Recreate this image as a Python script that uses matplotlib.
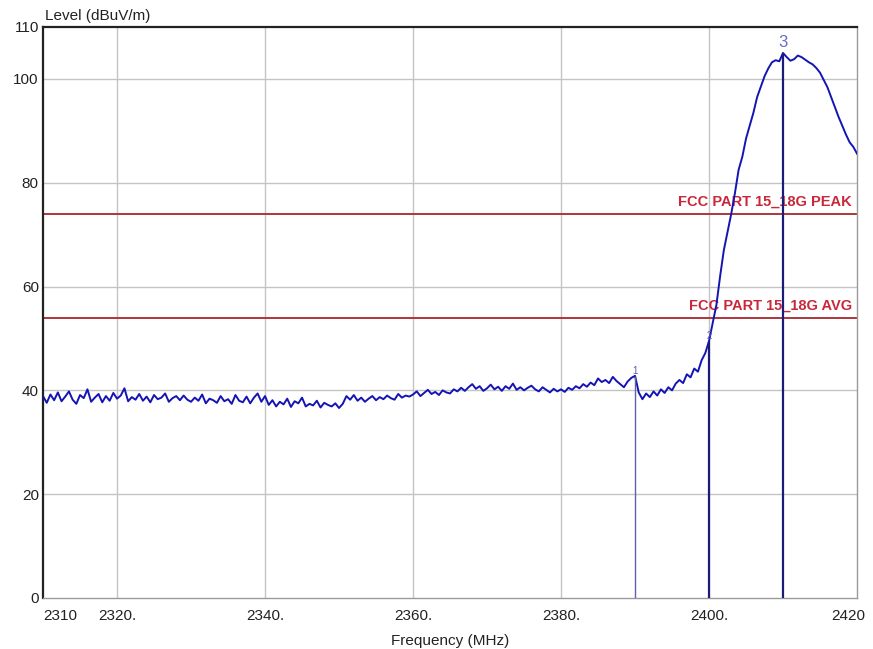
import numpy as np
import matplotlib
matplotlib.use("Agg")
import matplotlib.pyplot as plt
import matplotlib.transforms as mtransforms

plt.rcParams["font.family"] = ["Liberation Sans", "DejaVu Sans"]

# ---------------------------------------------------------------
# Data (0.5 MHz steps, 2310 - 2420 MHz)
# ---------------------------------------------------------------
freq_start = 2310.0
freq_step = 0.5

level = [
    # 2310 - 2319.5
    38.9, 37.6, 39.2, 38.1, 39.6, 37.9, 38.8, 39.8, 38.2, 37.4,
    39.1, 38.5, 40.2, 37.8, 38.6, 39.3, 37.7, 38.9, 38.0, 39.5,
    # 2320 - 2329.5
    38.4, 39.0, 40.4, 37.9, 38.7, 38.2, 39.3, 38.0, 38.8, 37.7,
    39.1, 38.3, 38.6, 39.4, 37.8, 38.5, 38.9, 38.1, 39.0, 38.2,
    # 2330 - 2339.5
    37.8, 38.6, 38.0, 39.2, 37.5, 38.4, 38.1, 37.6, 38.9, 37.9,
    38.3, 37.4, 39.1, 38.0, 37.7, 38.8, 37.5, 38.6, 39.4, 37.8,
    # 2340 - 2349.5
    38.9, 37.2, 38.1, 36.9, 37.8, 37.3, 38.4, 36.8, 37.9, 37.5,
    38.6, 36.9, 37.4, 37.1, 38.0, 36.7, 37.6, 37.2, 36.9, 37.5,
    # 2350 - 2359.5
    36.6, 37.4, 38.9, 38.2, 39.1, 38.0, 38.6, 37.8, 38.4, 38.9,
    38.1, 38.7, 38.3, 39.0, 38.5, 38.2, 39.3, 38.6, 39.0, 38.8,
    # 2360 - 2369.5
    39.2, 39.8, 38.9, 39.5, 40.1, 39.3, 39.7, 39.1, 40.0, 39.6,
    39.4, 40.2, 39.8, 40.5, 39.9, 40.6, 41.2, 40.3, 40.8, 39.9,
    # 2370 - 2379.5
    40.4, 41.1, 40.2, 40.7, 39.9, 40.8, 40.3, 41.3, 40.1, 40.6,
    40.0, 40.5, 40.9, 40.2, 39.8, 40.6, 40.1, 39.6, 40.3, 39.8,
    # 2380 - 2389.5
    40.2, 39.7, 40.5, 40.1, 40.8, 40.4, 41.2, 40.7, 41.5, 41.0,
    42.3, 41.6, 42.0, 41.4, 42.6, 41.8, 41.2, 40.6, 41.7, 42.4,
    # 2390 - 2399.5
    42.8, 39.6, 38.3, 39.4, 38.7, 39.8, 39.0, 40.2, 39.5, 40.6,
    40.0, 41.3, 42.0, 41.4, 43.1, 42.5, 44.2, 43.6, 45.8, 47.2,
    # 2400 - 2409.5
    49.5, 53.0, 56.5, 62.0, 67.0, 70.5, 74.0, 78.0, 82.5, 85.0,
    88.5, 91.0, 93.5, 96.5, 98.5, 100.5, 102.0, 103.2, 103.6, 103.4,
    # 2410 - 2420
    105.0, 104.2, 103.5, 103.8, 104.5, 104.2, 103.7, 103.2, 102.8, 102.1,
    101.2, 99.8, 98.4, 96.5, 94.6, 92.7, 91.0, 89.3, 87.8, 86.9, 85.6,
]

limit_names = ["FCC PART 15_18G PEAK", "FCC PART 15_18G AVG"]
limit_values = [74, 54]

marker_labels = ["1", "2", "3"]
marker_freqs = [2390, 2400, 2410]

x_ticks = [2310, 2320, 2340, 2360, 2380, 2400, 2420]
x_tick_labels = ["2310", "2320.", "2340.", "2360.", "2380.", "2400.", "2420"]
y_ticks = [0, 20, 40, 60, 80, 100, 110]

freq = freq_start + freq_step * np.arange(len(level))
level = np.array(level)

fig = plt.figure(figsize=(8.73, 6.49), dpi=100)
ax = fig.add_axes([0.0493, 0.0786, 0.9324, 0.8798])

# grid
for xv in [2320, 2340, 2360, 2380, 2400]:
    ax.axvline(xv, color="#c4c4c4", lw=1.0, zorder=0)
for yv in [20, 40, 60, 80, 100]:
    ax.axhline(yv, color="#c4c4c4", lw=1.0, zorder=0)

# limit lines
for name, val in zip(limit_names, limit_values):
    ax.axhline(val, color="#a8282e", lw=1.3, zorder=2)
    ax.text(2419.3, val + 0.9, name, color="#c8283a", fontsize=10.5,
            fontweight="bold", ha="right", va="bottom", zorder=3)

# trace
ax.plot(freq, level, color="#1414b4", lw=1.4, zorder=4)

# markers
for i, (lab, mf) in enumerate(zip(marker_labels, marker_freqs)):
    mv = np.interp(mf, freq, level)
    if i == 0:
        ax.vlines(mf, 0, mv, color="#5a64a8", lw=1.0, zorder=5)
        ax.text(mf, mv, lab, color="#5a5ab4", fontsize=7, ha="center",
                va="bottom", zorder=6)
    elif i == 1:
        ax.vlines(mf, 0, mv, color="#1c1c78", lw=1.6, zorder=5)
        ax.text(mf, mv, lab, color="#5a5ab4", fontsize=7, ha="center",
                va="bottom", zorder=6)
    else:
        ax.vlines(mf, 0, mv, color="#1c1c78", lw=1.6, zorder=5)
        ax.text(mf, mv + 0.5, lab, color="#6a6ac8", fontsize=12, ha="center",
                va="bottom", zorder=6)

ax.set_xlim(2310, 2420)
ax.set_ylim(0, 110)

ax.set_xticks(x_ticks)
ax.set_xticklabels(x_tick_labels, fontsize=11, color="#222222")
ax.set_yticks(y_ticks)
ax.set_yticklabels([str(v) for v in y_ticks], fontsize=11, color="#222222")
ax.tick_params(axis="x", length=0, pad=8)
ax.tick_params(axis="y", length=0, pad=3)

xl = ax.get_xticklabels()
xl[0].set_horizontalalignment("left")
xl[-1].set_transform(xl[-1].get_transform() +
                     mtransforms.ScaledTranslation(-6 / 72, 0, fig.dpi_scale_trans))

for side in ["top", "left"]:
    ax.spines[side].set_color("#222222")
    ax.spines[side].set_linewidth(1.6)
for side in ["bottom", "right"]:
    ax.spines[side].set_color("#9a9a9a")
    ax.spines[side].set_linewidth(1.0)

ax.set_xlabel("Frequency (MHz)", fontsize=11, color="#222222", labelpad=8)
fig.text(0.052, 0.965, "Level (dBuV/m)", fontsize=11, color="#222222",
         ha="left", va="bottom")

fig.savefig("out.png", dpi=100)
